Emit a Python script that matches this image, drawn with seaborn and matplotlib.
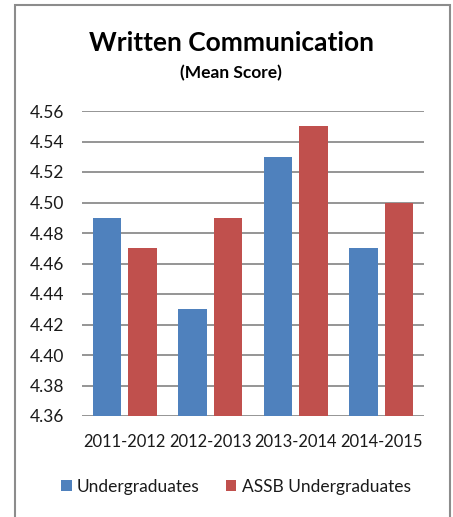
import matplotlib
matplotlib.use("Agg")
import matplotlib.pyplot as plt
import seaborn as sns
import pandas as pd
from matplotlib.patches import Patch, Rectangle
from matplotlib.ticker import FormatStrFormatter

years = ["2011-2012", "2012-2013", "2013-2014", "2014-2015"]
series_names = ["Undergraduates", "ASSB Undergraduates"]
undergrad = [4.49, 4.43, 4.53, 4.47]
assb = [4.47, 4.49, 4.55, 4.50]
colors = ["#4F81BD", "#C0504D"]

df = pd.DataFrame({
    "Year": years * 2,
    "Group": [series_names[0]] * 4 + [series_names[1]] * 4,
    "Score": undergrad + assb,
})

sns.set_theme(style="white")
plt.rcParams["font.family"] = ["Lato", "DejaVu Sans"]

W, H = 453, 517
fig = plt.figure(figsize=(W / 100, H / 100), dpi=100)
ax = fig.add_axes([82 / W, 101 / H, (424 - 82) / W, (416 - 111) / H])

sns.barplot(data=df, x="Year", y="Score", hue="Group", palette=colors,
            width=0.83, gap=0.2, ax=ax, legend=False, zorder=3,
            saturation=1, linewidth=0)

ax.set_ylim(4.36, 4.56)
ax.set_yticks([4.36 + 0.02 * i for i in range(11)])
ax.yaxis.set_major_formatter(FormatStrFormatter("%.2f"))
ax.set_xlim(-0.5, 3.5)
ax.grid(axis="y", color="#8c8c8c", linewidth=1.3, zorder=0)
ax.set_axisbelow(True)
for s in ax.spines.values():
    s.set_visible(False)
ax.tick_params(axis="y", length=0, pad=13, labelsize=12.5, labelcolor="#1a1a1a")
ax.tick_params(axis="x", length=0, pad=13, labelsize=11.9, labelcolor="#1a1a1a")
ax.set_xlabel("")
ax.set_ylabel("")

fig.text(231 / W, 1 - 43 / H, "Written Communication", ha="center", va="center",
         fontsize=19, fontweight="bold", color="black")
fig.text(231 / W, 1 - 73 / H, "(Mean Score)", ha="center", va="center",
         fontsize=12.5, fontweight="bold", color="black")

handles = [Patch(facecolor=c, edgecolor="none", label=n) for c, n in zip(colors, series_names)]
fig.legend(handles=handles, loc="center", bbox_to_anchor=(236 / W, 1 - 487 / H),
           ncol=2, frameon=False, fontsize=12.5, handlelength=0.6, handleheight=0.6,
           handletextpad=0.3, columnspacing=1.5, labelcolor="#1a1a1a")

border = Rectangle((15 / W, -0.05), (450 - 15) / W, 1 - 5 / H + 0.05,
                   transform=fig.transFigure, fill=False, edgecolor="#8c8c8c",
                   linewidth=1.5)
fig.patches.append(border)

fig.savefig("out.png", dpi=100)
